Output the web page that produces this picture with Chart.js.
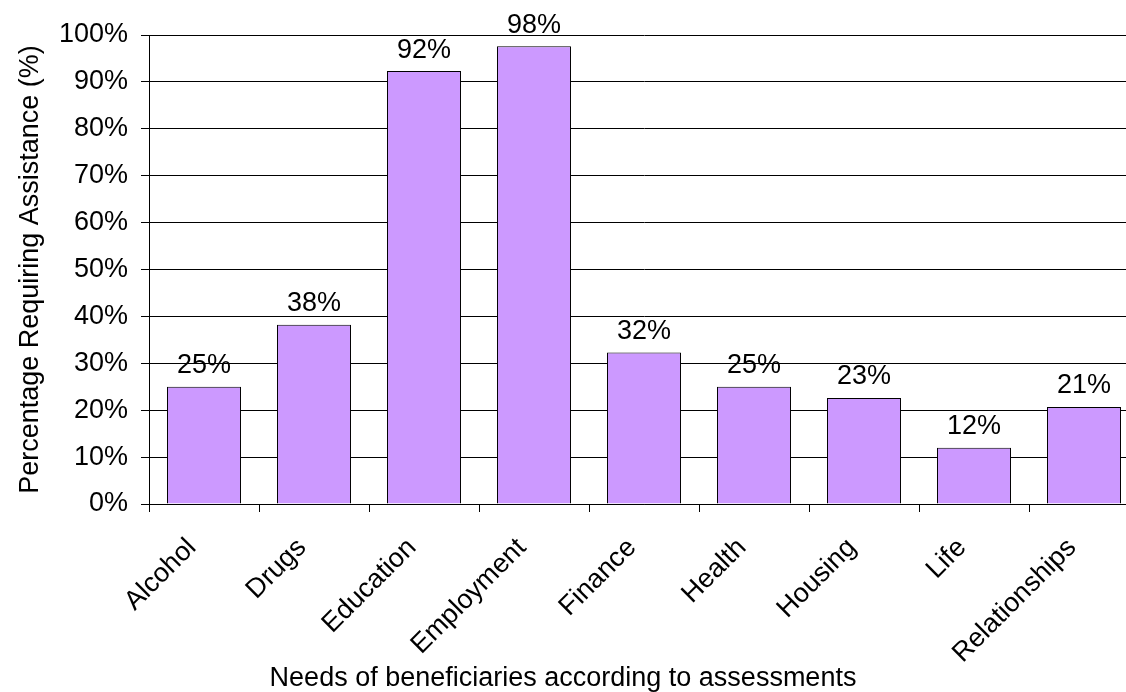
<!DOCTYPE html>
<html>
<head>
<meta charset="utf-8">
<script src="https://cdn.jsdelivr.net/npm/chart.js@4"></script>
<style>
  html, body { margin: 0; padding: 0; background: #fff; overflow: hidden; }
  #wrap { width: 1140px; height: 692px; }
</style>
</head>
<body>
<div id="wrap"><canvas id="needsChart" width="1140" height="692"></canvas></div>
<script>
const categories = ['Alcohol', 'Drugs', 'Education', 'Employment', 'Finance', 'Health', 'Housing', 'Life', 'Relationships'];
const percentages = [25, 38.2, 92.3, 97.6, 32.3, 25, 22.6, 12, 20.7];
const yTicks = [0, 10, 20, 30, 40, 50, 60, 70, 80, 90, 100];
const xTitle = 'Needs of beneficiaries according to assessments';

const FONT = "'Liberation Sans', Arial, sans-serif";

// labels above each bar, rounded like the source; x title centred on the page
const extras = {
  id: 'extras',
  afterDatasetsDraw(chart) {
    const ctx = chart.ctx;
    const meta = chart.getDatasetMeta(0);
    ctx.save();
    ctx.font = '27px ' + FONT;
    ctx.fillStyle = '#000';
    ctx.textAlign = 'center';
    ctx.textBaseline = 'middle';
    meta.data.forEach((bar, i) => {
      ctx.fillText(Math.round(percentages[i]) + '%', bar.x, bar.y - 21);
    });
    ctx.textBaseline = 'alphabetic';
    ctx.fillText(xTitle, 563, 686);
    ctx.restore();
  }
};

new Chart(document.getElementById('needsChart'), {
  type: 'bar',
  data: {
    labels: categories,
    datasets: [{
      data: percentages,
      backgroundColor: '#CC99FF',
      borderColor: '#000',
      borderWidth: 1,
      categoryPercentage: 1,
      barPercentage: 0.673
    }]
  },
  options: {
    responsive: false,
    animation: false,
    devicePixelRatio: 1,
    layout: { padding: { top: 35, right: 1, left: 0, bottom: 0 } },
    plugins: { legend: { display: false }, tooltip: { enabled: false } },
    scales: {
      x: {
        grid: { offset: true, drawOnChartArea: false, color: '#000', tickLength: 8 },
        border: { color: '#000' },
        ticks: {
          color: '#000', font: { family: FONT, size: 27 },
          minRotation: 45, maxRotation: 45, padding: 20, labelOffset: -12
        },
        afterFit(scale) { scale.height = 188; }
      },
      y: {
        min: 0, max: 100,
        afterBuildTicks(scale) { scale.ticks = yTicks.map(v => ({ value: v })); },
        grid: { color: '#000', tickLength: 8 },
        border: { color: '#000' },
        ticks: {
          color: '#000', font: { family: FONT, size: 27 }, padding: 13,
          callback: v => v + '%'
        },
        title: {
          display: true, text: 'Percentage Requiring Assistance (%)',
          color: '#000', font: { family: FONT, size: 27 }, padding: { top: 14, bottom: 0 }
        },
        afterFit(scale) { scale.width = 149; }
      }
    }
  },
  plugins: [extras]
});
</script>
</body>
</html>
